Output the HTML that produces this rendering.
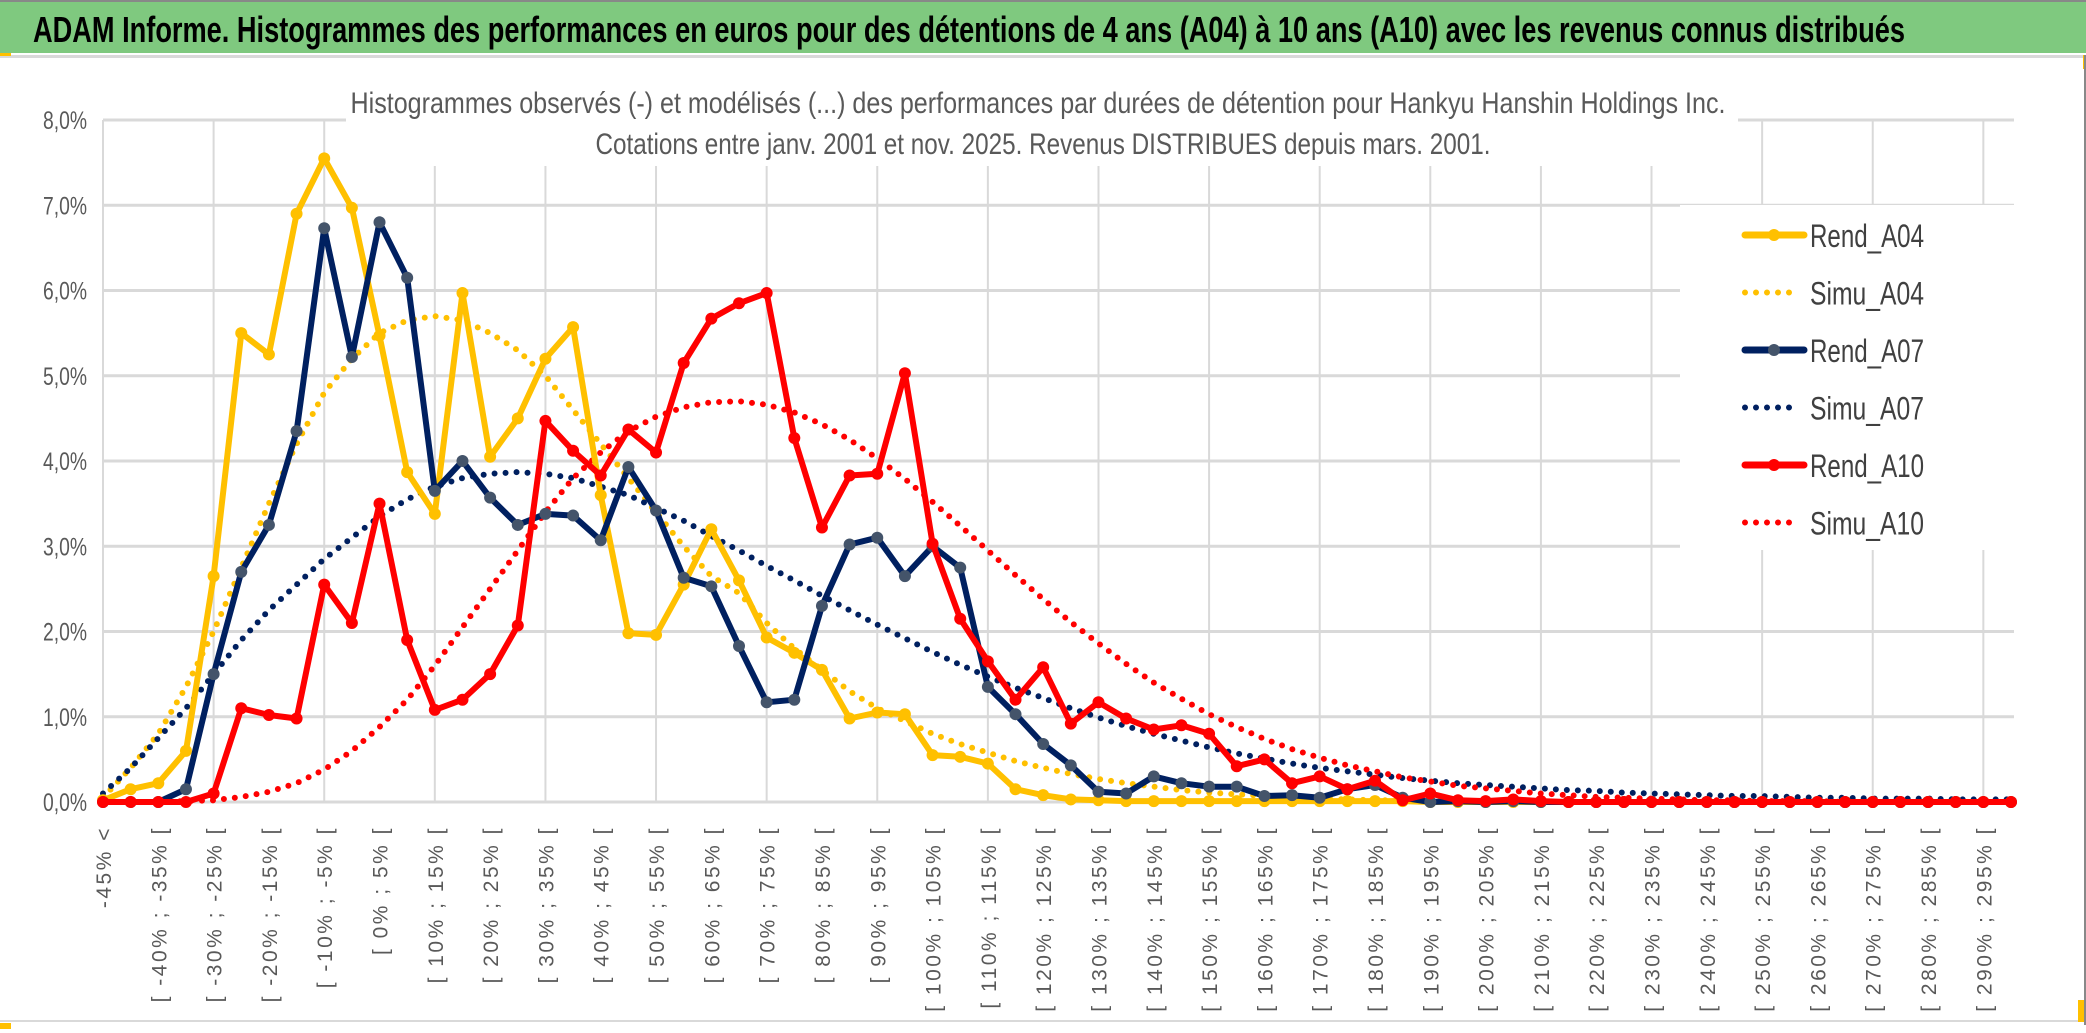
<!DOCTYPE html>
<html><head><meta charset="utf-8"><style>
html,body{margin:0;padding:0;background:#fff;}
svg{display:block;}
text{font-family:"Liberation Sans",sans-serif;}
</style></head><body>
<svg id="chart" width="2086" height="1033" viewBox="0 0 2086 1033" xmlns="http://www.w3.org/2000/svg">
<rect x="0" y="0" width="2086" height="1033" fill="#fff"/>
<rect x="0" y="0" width="2086" height="53" fill="#7fc97f"/>
<rect x="0" y="0" width="2086" height="2" fill="#888"/>
<text x="33" y="42" font-size="36" font-weight="bold" fill="#000" textLength="1872" lengthAdjust="spacingAndGlyphs">ADAM Informe. Histogrammes des performances en euros pour des détentions de 4 ans (A04) à 10 ans (A10) avec les revenus connus distribués</text>
<rect x="0" y="55" width="2086" height="3" fill="#d9d9d9"/>
<rect x="0" y="53" width="11" height="3" fill="#ffc000"/>
<rect x="2083" y="55" width="3" height="14" fill="#ffc000"/>
<rect x="0" y="1020" width="2086" height="2" fill="#d9d9d9"/>
<rect x="0" y="1023" width="11" height="6" fill="#ffc000"/>
<rect x="2078" y="1000" width="8" height="22" fill="#ffc000"/>
<rect x="2084" y="55" width="2" height="970" fill="#888"/>
<g id="grid"></g>
<g id="xlabels"></g>
<g id="ylabels"></g>
<rect x="346" y="78" width="1392" height="88" fill="#fff"/>
<rect x="1680" y="205" width="335" height="345" fill="#fff"/>
<text x="1038" y="113" text-anchor="middle" font-size="30" fill="#595959" textLength="1375" lengthAdjust="spacingAndGlyphs">Histogrammes observés (-) et modélisés (...) des performances par durées de détention pour Hankyu Hanshin Holdings Inc.</text>
<text x="1043" y="154" text-anchor="middle" font-size="30" fill="#595959" textLength="895" lengthAdjust="spacingAndGlyphs">Cotations entre janv. 2001 et nov. 2025. Revenus DISTRIBUES depuis mars. 2001.</text>
<g id="series"></g>
<g id="legend"></g>
</svg>
<script>
const catLabels=["-45% <"];
for(let k=1;k<70;k++){const lo=-50+5*k;catLabels.push("[ "+lo+"% ; "+(lo+5)+"% [");}
const yTicks=[0,1,2,3,4,5,6,7,8];
const yTickLabels=["0,0%","1,0%","2,0%","3,0%","4,0%","5,0%","6,0%","7,0%","8,0%"];
const rendA04=[0.02,0.15,0.22,0.6,2.65,5.5,5.25,6.9,7.55,6.97,5.47,3.87,3.38,5.97,4.05,4.5,5.2,5.57,3.6,1.98,1.96,2.55,3.2,2.6,1.93,1.75,1.55,0.98,1.05,1.03,0.55,0.53,0.45,0.15,0.08,0.03,0.02,0.01,0.01,0.01,0.01,0.01,0.01,0.01,0.01,0.01,0.01,0.01,0,0,0,0,0,0,0,0,0,0,0,0,0,0,0,0,0,0,0,0,0,0];
const simuA04=[0.05,0.4,0.8,1.35,2.0,2.75,3.5,4.2,4.8,5.2,5.5,5.65,5.7,5.65,5.5,5.3,5.0,4.6,4.2,3.8,3.4,3.0,2.65,2.45,2.1,1.8,1.55,1.3,1.1,0.95,0.8,0.68,0.58,0.48,0.4,0.33,0.27,0.22,0.18,0.14,0.11,0.09,0.07,0.05,0.04,0.03,0.02,0.02,0.01,0.01,0,0,0,0,0,0,0,0,0,0,0,0,0,0,0,0,0,0,0,0];
const rendA07=[0,0,0,0.15,1.5,2.7,3.25,4.35,6.73,5.22,6.8,6.15,3.65,4.0,3.57,3.25,3.38,3.36,3.07,3.93,3.42,2.63,2.53,1.83,1.17,1.2,2.3,3.02,3.1,2.65,3.0,2.75,1.35,1.03,0.68,0.43,0.12,0.1,0.3,0.22,0.18,0.18,0.07,0.08,0.05,0.15,0.2,0.05,0,0.01,0,0.01,0,0,0,0,0,0,0,0,0,0,0,0,0,0,0,0,0,0];
const simuA07=[0.1,0.4,0.75,1.1,1.5,1.9,2.25,2.55,2.85,3.1,3.35,3.55,3.7,3.8,3.85,3.87,3.85,3.8,3.7,3.6,3.45,3.3,3.12,2.95,2.77,2.6,2.42,2.25,2.08,1.92,1.76,1.61,1.47,1.34,1.22,1.1,0.99,0.89,0.8,0.72,0.64,0.57,0.51,0.45,0.4,0.36,0.32,0.28,0.25,0.22,0.2,0.18,0.16,0.14,0.13,0.11,0.1,0.09,0.08,0.07,0.07,0.06,0.05,0.05,0.04,0.04,0.04,0.03,0.03,0.03];
const rendA10=[0,0,0,0,0.1,1.1,1.02,0.98,2.55,2.1,3.5,1.9,1.08,1.2,1.5,2.07,4.47,4.12,3.83,4.37,4.1,5.15,5.67,5.85,5.97,4.27,3.22,3.83,3.85,5.03,3.03,2.15,1.65,1.2,1.58,0.92,1.17,0.98,0.85,0.9,0.8,0.42,0.5,0.22,0.3,0.15,0.25,0.02,0.1,0.02,0.01,0.03,0.01,0,0,0,0,0,0,0,0,0,0,0,0,0,0,0,0,0];
const simuA10=[0,0,0,0.01,0.02,0.06,0.12,0.22,0.38,0.6,0.88,1.2,1.6,2.05,2.5,2.95,3.4,3.8,4.1,4.35,4.52,4.63,4.69,4.7,4.66,4.57,4.43,4.25,4.03,3.79,3.52,3.24,2.95,2.66,2.38,2.11,1.86,1.62,1.4,1.21,1.03,0.88,0.74,0.62,0.52,0.43,0.36,0.29,0.24,0.19,0.16,0.13,0.1,0.08,0.06,0.05,0.04,0.03,0.02,0.02,0.01,0.01,0.01,0,0,0,0,0,0,0];
const seriesNames=["Rend_A04","Simu_A04","Rend_A07","Simu_A07","Rend_A10","Simu_A10"];

const NS="http://www.w3.org/2000/svg";
const X0=103,X1=2011,Y0=802,Y8=120;
const n=catLabels.length;
function xs(k){return X0+(X1-X0)*k/(n-1);}
function ys(v){return Y0-(Y0-Y8)*v/8;}
function mk(tag,parent,attrs){const e=document.createElementNS(NS,tag);for(const a in attrs)e.setAttribute(a,attrs[a]);parent.appendChild(e);return e;}

const grid=document.getElementById('grid');
yTicks.forEach((t,i)=>{
  const l=mk('line',grid,{x1:xs(0),x2:X1+3,y1:ys(t),y2:ys(t),stroke:'#d9d9d9','stroke-width':3});
  
  
});
for(let k=0;k<n;k+=4){
  const l=mk('line',grid,{x1:xs(k),x2:xs(k),y1:ys(8),y2:ys(0),stroke:'#d9d9d9','stroke-width':2});
  
  
}
const yl=document.getElementById('ylabels');
yTicks.forEach((t,i)=>{
  const tx=mk('text',yl,{x:87,y:ys(t)+9,'text-anchor':'end','font-size':25,fill:'#595959',textLength:44,lengthAdjust:'spacingAndGlyphs'});
  tx.textContent=yTickLabels[i];
  
  
});
const xl=document.getElementById('xlabels');
for(let k=0;k<n;k++){
  if(k!==0 && k%2!==0) continue;
  const x=xs(k)+8, y=826;
  const tx=mk('text',xl,{x:x,y:y,'text-anchor':'end','font-size':21,fill:'#595959',transform:'rotate(-90 '+x+' '+y+')','letter-spacing':'2.5'});
  tx.textContent=catLabels[k];
  
  
}
const sg=document.getElementById('series');
function path(vals){return vals.map((v,k)=>(k?'L':'M')+xs(k).toFixed(1)+' '+ys(v).toFixed(1)).join(' ');}
function dotted(vals,color,name){
  const p=mk('path',sg,{d:path(vals),fill:'none',stroke:color,'stroke-width':6,'stroke-dasharray':'0 11','stroke-linecap':'round'});
  
  
}
function solid(vals,color,mcolor,name){
  const p=mk('path',sg,{d:path(vals),fill:'none',stroke:color,'stroke-width':6,'stroke-linejoin':'round'});
  
  
  vals.forEach((v,k)=>{
    const c=mk('circle',sg,{cx:xs(k),cy:ys(v),r:6,fill:mcolor});
    
    
  });
}
dotted(simuA04,'#ffc000','simu-a04-line');
dotted(simuA07,'#002060','simu-a07-line');
dotted(simuA10,'#ff0000','simu-a10-line');
solid(rendA04,'#ffc000','#ffc000','rend-a04-line');
solid(rendA07,'#002060','#44546a','rend-a07-line');
solid(rendA10,'#ff0000','#ff0000','rend-a10-line');

const lg=document.getElementById('legend');
const lcol=['#ffc000','#ffc000','#002060','#002060','#ff0000','#ff0000'];
const lmark=['#ffc000',null,'#44546a',null,'#ff0000',null];
seriesNames.forEach((s,i)=>{
  const y=235+57.5*i;
  const g=mk('g',lg,{});
  
  
  if(lmark[i]){
    mk('line',g,{x1:1745,x2:1804,y1:y,y2:y,stroke:lcol[i],'stroke-width':7,'stroke-linecap':'round'});
    mk('circle',g,{cx:1774,cy:y,r:6,fill:lmark[i]});
  } else {
    mk('line',g,{x1:1745,x2:1800,y1:y,y2:y,stroke:lcol[i],'stroke-width':6,'stroke-dasharray':'0 11','stroke-linecap':'round'});
  }
  const t=mk('text',g,{x:1810,y:y+12,'font-size':32,fill:'#404040',textLength:114,lengthAdjust:'spacingAndGlyphs'});
  t.textContent=s;
});
</script>
</body></html>
